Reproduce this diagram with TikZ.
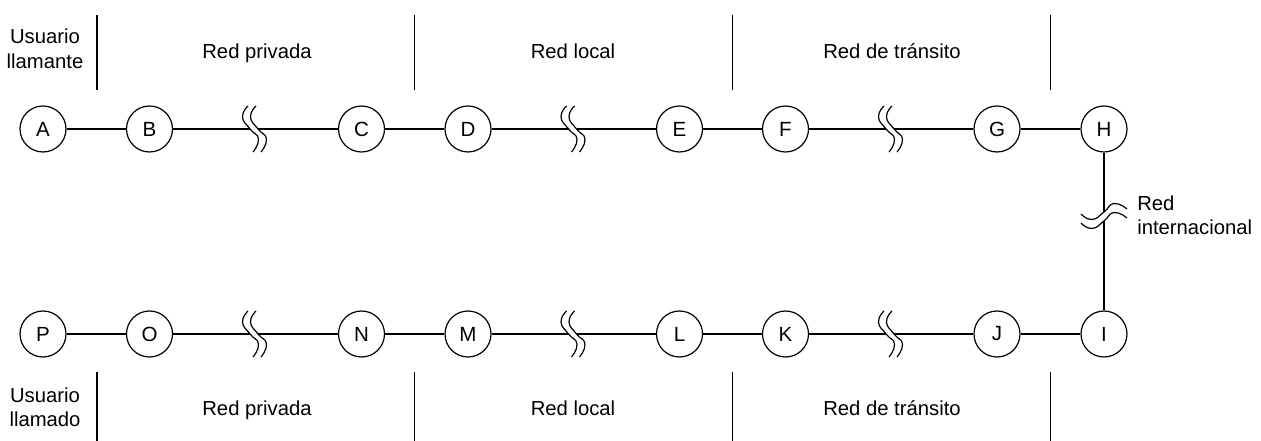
\documentclass[tikz,border=0pt]{standalone}
\usepackage{fontspec}
\setmainfont{Liberation Sans}
\begin{document}
\begin{tikzpicture}[x=0.75pt,y=-0.75pt,
  lbl/.style={font=\fontsize{15.2}{18.4}\selectfont, inner sep=0pt, anchor=base},
  stn/.style={circle, draw, line width=0.9pt, minimum size=34.5pt, inner sep=0pt,
              font=\fontsize{15.4}{18.4}\selectfont},
  link/.style={line width=0.9pt},
  sepline/.style={line width=1pt},
  hbreak/.pic={\draw[line width=0.9pt] plot[smooth, tension=0.9]
     coordinates {(-2,-23) (-7.5,-12) (0,0) (8.5,10) (3,23)};},
  vbreak/.pic={\draw[line width=0.9pt] plot[smooth, tension=0.9]
     coordinates {(-23,2) (-12,7.5) (0,0) (10,-8.5) (23,-3)};}]
\useasboundingbox (0,0) rectangle (1261,441);

% stations, top row
\node[stn] (A) at (43,129) {A};
\node[stn] (B) at (149.5,129) {B};
\node[stn] (C) at (361.5,129) {C};
\node[stn] (D) at (468,129) {D};
\node[stn] (E) at (679.5,129) {E};
\node[stn] (F) at (785.5,129) {F};
\node[stn] (G) at (997,129) {G};
\node[stn] (H) at (1104,129) {H};
% stations, bottom row
\node[stn] (P) at (43,334) {P};
\node[stn] (O) at (149.5,334) {O};
\node[stn] (N) at (361.5,334) {N};
\node[stn] (M) at (468,334) {M};
\node[stn] (L) at (679.5,334) {L};
\node[stn] (K) at (785.5,334) {K};
\node[stn] (J) at (997,334) {J};
\node[stn] (I) at (1104,334) {I};

% break points
\coordinate (t1a) at (250,129);  \coordinate (t1b) at (258,129);
\coordinate (t2a) at (568.5,129);\coordinate (t2b) at (576.5,129);
\coordinate (t3a) at (886,129);  \coordinate (t3b) at (894,129);
\coordinate (b1a) at (250,334);  \coordinate (b1b) at (258,334);
\coordinate (b2a) at (568.5,334);\coordinate (b2b) at (576.5,334);
\coordinate (b3a) at (886,334);  \coordinate (b3b) at (894,334);
\coordinate (va) at (1104,212);  \coordinate (vb) at (1104,221);

\foreach \p in {t1a,t1b,t2a,t2b,t3a,t3b,b1a,b1b,b2a,b2b,b3a,b3b}
  \pic at (\p) {hbreak};
\pic at (va) {vbreak};
\pic at (vb) {vbreak};

% connectors
\draw[link] (A) -- (B);
\draw[link] (B) -- (t1a);
\draw[link] (t1b) -- (C);
\draw[link] (C) -- (D);
\draw[link] (D) -- (t2a);
\draw[link] (t2b) -- (E);
\draw[link] (E) -- (F);
\draw[link] (F) -- (t3a);
\draw[link] (t3b) -- (G);
\draw[link] (G) -- (H);
\draw[link] (H) -- (va);
\draw[link] (vb) -- (I);
\draw[link] (I) -- (J);
\draw[link] (J) -- (b3b);
\draw[link] (b3a) -- (K);
\draw[link] (K) -- (L);
\draw[link] (L) -- (b2b);
\draw[link] (b2a) -- (M);
\draw[link] (M) -- (N);
\draw[link] (N) -- (b1b);
\draw[link] (b1a) -- (O);
\draw[link] (O) -- (P);

% separators
\foreach \x in {97,414.3,732.7,1050.7} {
  \draw[sepline] (\x,15) -- (\x,90);
  \draw[sepline] (\x,372) -- (\x,441);
}

% labels (base anchor = baseline of the last line)
\node[lbl, align=center] (ul1) at (45,68.3) {Usuario\\llamante};
\node[lbl] (rp1) at (257,58.3) {Red privada};
\node[lbl] (rl1) at (573,58.3) {Red local};
\node[lbl] (rt1) at (892,58.3) {Red de tránsito};
\node[lbl, align=center] (ul2) at (45,427) {Usuario\\llamado};
\node[lbl] (rp2) at (257,415.5) {Red privada};
\node[lbl] (rl2) at (573,415.5) {Red local};
\node[lbl] (rt2) at (892,415.5) {Red de tránsito};
\node[lbl, align=left, anchor=base west] (ri) at (1137,235) {Red\\internacional};
\end{tikzpicture}
\end{document}
